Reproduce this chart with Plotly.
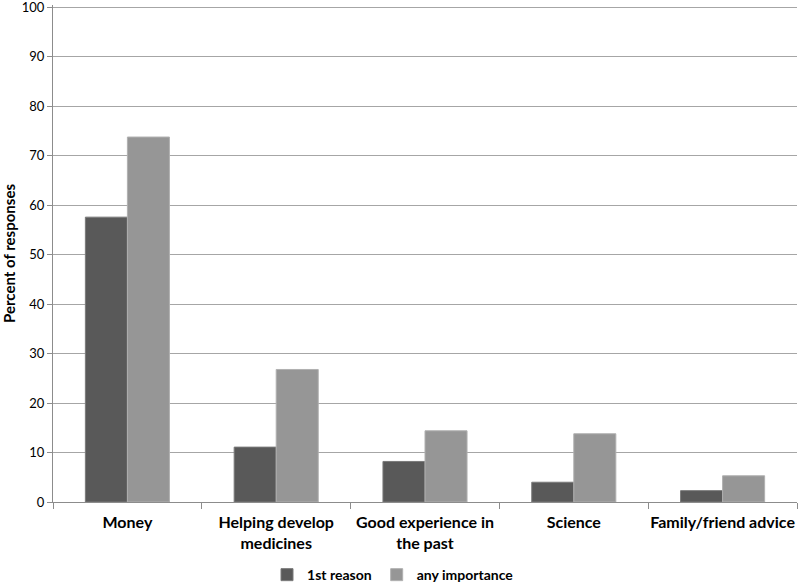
import plotly.graph_objects as go

categories = ["Money", "Helping develop<br>medicines", "Good experience in<br>the past", "Science", "Family/friend advice"]
first_reason = [57.6, 11.1, 8.2, 4.0, 2.3]
any_importance = [73.8, 26.8, 14.4, 13.8, 5.3]
y_ticks = [0, 10, 20, 30, 40, 50, 60, 70, 80, 90, 100]

FONT = "Lato, Open Sans, Liberation Sans, sans-serif"

fig = go.Figure()
fig.add_trace(go.Bar(x=categories, y=first_reason, name="1st reason",
                     marker=dict(color="#595959", line=dict(color="#7a7a7a", width=1))))
fig.add_trace(go.Bar(x=categories, y=any_importance, name="any importance",
                     marker=dict(color="#969696", line=dict(color="#b0b0b0", width=1))))

fig.update_layout(
    width=800, height=584,
    margin=dict(l=53, r=3, t=5, b=82, autoexpand=False),
    paper_bgcolor="white", plot_bgcolor="white",
    barmode="group", bargap=0.435, bargroupgap=0,
    font=dict(family=FONT, color="#000000"),
    showlegend=True,
    legend=dict(orientation="h", x=0.457, xanchor="center", y=-0.147, yanchor="middle",
                font=dict(size=14, family=FONT, weight="bold"), itemwidth=30,
                traceorder="normal"),
)
fig.update_xaxes(
    showline=True, linecolor="#8c8c8c", linewidth=1,
    ticks="outside", tickson="boundaries", ticklen=6, tickcolor="#8c8c8c",
    tickfont=dict(size=16, family=FONT, weight="bold"),
    tickangle=0, automargin=False, ticklabelstandoff=6,
    showgrid=False,
)
fig.update_yaxes(
    range=[0, 100.5], tickvals=y_ticks,
    showline=True, linecolor="#8c8c8c", linewidth=1,
    ticks="outside", ticklen=5, tickcolor="#8c8c8c",
    showgrid=True, gridcolor="#a6a6a6", gridwidth=1,
    tickfont=dict(size=13, family=FONT),
    ticklabeloverflow="allow",
    automargin=False,
    title=dict(text="Percent of responses", font=dict(size=15, family=FONT, weight="bold"), standoff=12),
    zeroline=False,
)

fig.write_html(
    "out.html",
    config={"displayModeBar": False},
    post_script="document.body.style.margin='0';document.body.style.overflow='hidden';",
)
